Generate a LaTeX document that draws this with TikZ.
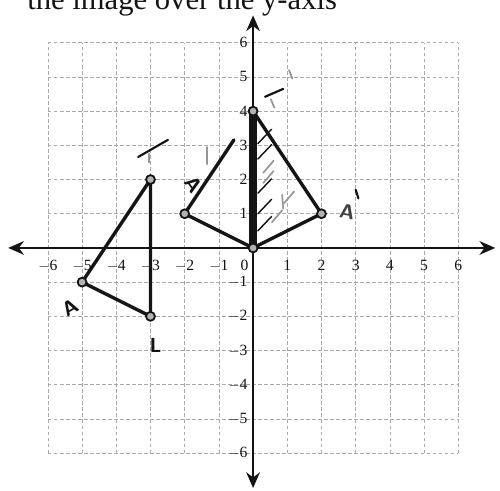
\documentclass[tikz,border=0pt]{standalone}
\usepackage{fontspec}
\setmainfont{Liberation Serif}
\usetikzlibrary{arrows.meta,calc}
\definecolor{gridc}{RGB}{170,170,170}
\definecolor{ink}{RGB}{20,20,20}
\definecolor{pencil}{RGB}{150,150,150}
\tikzset{
  gridln/.style={gridc,line width=0.5pt,densely dashed},
  axis/.style={{Stealth[length=4.6mm,width=4mm]}-{Stealth[length=4.6mm,width=4mm]},ink,line width=1.6pt},
  tick/.style={font=\fontsize{13}{13}\selectfont,text=ink,inner sep=1pt},
  pen/.style={ink,line width=2.8pt,line cap=round,line join=round},
  hatch/.style={ink,line width=1.2pt,line cap=round},
  faint/.style={pencil,line width=1.4pt,line cap=round},
  vtx/.style={circle,draw=ink,fill=gray!60,line width=1.5pt,inner sep=0pt,minimum size=0.26cm},
  hand/.style={font=\sffamily\bfseries\fontsize{17}{17}\selectfont,text=ink,inner sep=0pt},
  title/.style={font=\fontsize{25.5}{28}\selectfont,text=ink,anchor=base west,inner sep=0pt},
}

\begin{document}
\begin{tikzpicture}[x=1cm,y=1cm]
% ---- frame (500x490 px at 34.2 px per unit) ----
\def\xl{-7.40}\def\xr{7.22}\def\yb{-7.08}\def\yt{7.25}
\useasboundingbox (\xl,\yb) rectangle (\xr,\yt);
\clip (\xl,\yb) rectangle (\xr,\yt);
\fill[white] (\xl,\yb) rectangle (\xr,\yt);
% title line, cut at the top edge as in the scan
\node[title] (head) at (-6.61,6.96) {the image over the y-axis};

% ---- grid ----
\foreach \k in {-6,...,6}{
  \draw[gridln] (\k,-6) -- (\k,6);
  \draw[gridln] (-6,\k) -- (6,\k);
}
\coordinate (xw) at (-7.16,0);
\coordinate (xe) at (7.08,0);
\coordinate (yn) at (0,6.80);
\coordinate (ys) at (0,-7.02);
\draw[axis] (xw) -- (xe);
\draw[axis] (ys) -- (yn);

% tick labels
\foreach \k in {-6,...,-1,1,2,...,6}{
  \node[tick,anchor=north] (tx\k) at (\k,-0.32) {\ifnum\k<0 $-$\the\numexpr-\k\relax\else\k\fi};
  \node[tick,anchor=east] (ty\k) at (-0.12,\k) {\ifnum\k<0 $-$\the\numexpr-\k\relax\else\k\fi};
}
\node[tick,anchor=north] (tx0) at (-0.25,-0.32) {0};

% ---- original triangle ----
\coordinate (A) at (-5,-1);
\coordinate (T) at (-3,2);
\coordinate (L) at (-3,-2);
\draw[pen] (A) -- (T) -- (L) -- cycle;
\foreach \p in {A,T,L}{ \node[vtx] (v\p) at (\p) {}; }

% ---- middle sketch ----
\coordinate (P) at (-2,1);
\coordinate (O) at (0,0);
\coordinate (Q) at (0,4);
\coordinate (R) at (2,1);
\coordinate (Ps) at ($(P)!0.72!(Q)$);
\draw[pen] (Ps) -- (P) -- (O);
\draw[pen] ($(O)+(-0.07,0)$) -- ($(Q)+(-0.07,0)$);
\draw[pen] ($(O)+(0.07,0)$) -- ($(Q)+(0.07,0)$);
\draw[pen] (Q) -- (R) -- (O);
\foreach \p in {P,O,Q,R}{ \node[vtx] (v\p) at (\p) {}; }

% shading strokes
\foreach \y in {3.05,2.6,1.6,1.0,0.5}{
  \draw[hatch] (0.14,\y) -- ++(0.4,0.42);
}
\foreach \a/\b in {0.3/1.9,0.3/2.2,0.9/1.3,0.55/0.75}{
  \draw[faint] (\a,\b) -- ++(0.3,0.35);
}
\draw[faint] (-1.35,2.95) -- (-1.35,2.45);
\draw[faint] (1.05,5.2) -- (1.15,4.95);
\draw[faint] (0.85,1.55) -- (0.88,1.15);
\draw[faint] (-3.05,2.75) -- (-3.05,2.5);

% ---- hand labels ----
\node[hand,rotate=30] (lA) at (-5.35,-1.75) {A};
\node[hand] (lL) at (-2.85,-2.85) {L};
\draw[pen,line width=1.8pt] (-3.36,2.66) -- (-2.49,3.16);
\node[hand,rotate=-55] (lA2) at (-1.75,1.85) {A};
\draw[pen,line width=1.8pt] (0.35,4.42) -- (0.88,4.65);
\draw[faint] (0.52,4.35) -- (0.62,4.1);
\node[hand,rotate=-10,text=ink!80] (lA3) at (2.75,1.05) {A};
\draw[pen,line width=1.8pt] (3.0,1.7) -- (3.08,1.45);
\end{tikzpicture}
\end{document}
